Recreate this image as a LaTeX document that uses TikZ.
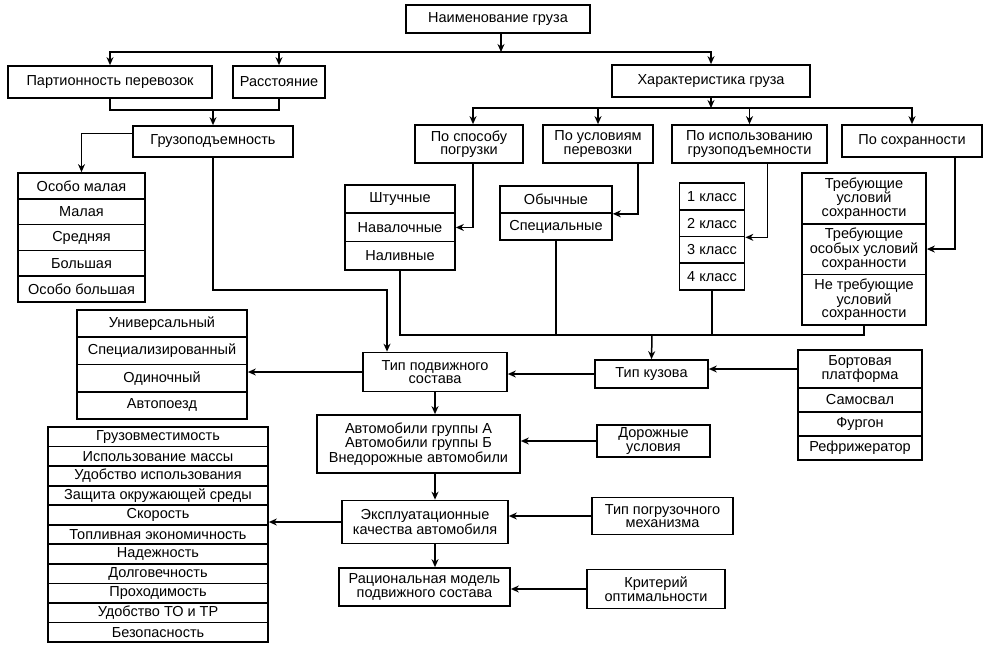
\documentclass[tikz,border=0pt]{standalone}
\usepackage{fontspec}
\setmainfont{Liberation Sans}
\usepackage{tikz}
\usetikzlibrary{arrows.meta}
\tikzset{
  nd_box/.style = {draw=black, line width=1.7pt, align=center, inner sep=1pt,
    font=\fontsize{14.5}{13.5}\selectfont},% box
  sz/.style 2 args = {minimum width=#1, minimum height=#2},% box size
  ln/.style = {line width=1.5pt}% connector
}

\begin{document}
\begin{tikzpicture}[x=1pt,y=-1pt,>={Stealth[length=8pt,width=7pt]},ln]
\useasboundingbox (0,0) rectangle (987,658);
% top level
\node [nd_box, sz={184}{28}] (naim) at (498,19) {Наименование груза};
\node [nd_box, sz={204}{32}] (part) at (110,82) {Партионность перевозок};
\node [nd_box, sz={92}{32}] (rasst) at (279,82) {Расстояние};
\node [nd_box, sz={198}{32}] (har) at (711,81) {Характеристика груза};
\node [nd_box, sz={160}{31}] (gruz) at (213,141.5) {Грузоподъемность};
\node [nd_box, sz={108}{38}] (sposob) at (469,144) {По способу\\погрузки};
\node [nd_box, sz={110}{38}] (uslov) at (598,144) {По условиям\\перевозки};
\node [nd_box, sz={155}{38}] (ispol) at (749.5,144) {По использованию\\грузоподъемности};
\node [nd_box, sz={140}{32}] (sohr) at (912,141) {По сохранности};
% stacks
\foreach \t [count=\i] in {Особо малая, Малая, Средняя, Большая, Особо большая}
  \node [nd_box, sz={127}{25.8}] (gp\i) at (81.5,{173+25.8*(\i-0.5)}) {\t};
\foreach \t [count=\i] in {Штучные, Навалочные, Наливные}
  \node [nd_box, sz={110}{28.3}] (sht\i) at (400,{185+28.3*(\i-0.5)}) {\t};
\foreach \t [count=\i] in {Обычные, Специальные}
  \node [nd_box, sz={112}{27}] (obych\i) at (556,{186+27*(\i-0.5)}) {\t};
\foreach \i in {1,...,4}
  \node [nd_box, sz={65}{26.75}] (kl\i) at (712,{183+26.75*(\i-0.5)}) {\i\ класс};
\foreach \t [count=\i] in {{Требующие\\условий\\сохранности},
    {Требующие\\особых условий\\сохранности}, {Не требующие\\условий\\сохранности}}
  \node [nd_box, sz={124}{50.7}] (tr\i) at (864,{173+50.7*(\i-0.5)}) {\t};
\foreach \t [count=\i] in {Универсальный, Специализированный, Одиночный, Автопоезд}
  \node [nd_box, sz={170}{27.25}] (un\i) at (162,{310+27.25*(\i-0.5)}) {\t};
\node [nd_box, sz={124}{38}] (bort1) at (860,369) {Бортовая\\платформа};
\foreach \t [count=\i from 2] in {Самосвал, Фургон, Рефрижератор}
  \node [nd_box, sz={124}{24}] (bort\i) at (860,{388+24*(\i-1.5)}) {\t};
\foreach \t [count=\i] in {Грузовместимость, Использование массы, Удобство использования,
    Защита окружающей среды, Скорость, Топливная экономичность, Надежность,
    Долговечность, Проходимость, Удобство ТО и ТР, Безопасность}
  \node [nd_box, sz={220}{19.55}] (gv\i) at (158,{427+19.55*(\i-0.5)}) {\t};
% middle column
\node [nd_box, sz={144}{39}] (tps) at (435,372) {Тип подвижного\\состава};
\node [nd_box, sz={113}{28}] (tk) at (651.5,374) {Тип кузова};
\node [nd_box, sz={203}{58}] (avto) at (418.5,444) {Автомобили группы А\\Автомобили группы Б\\Внедорожные автомобили};
\node [nd_box, sz={113}{32}] (dor) at (653.5,441) {Дорожные\\условия};
\node [nd_box, sz={166}{43}] (ekspl) at (425,522) {Эксплуатационные\\качества автомобиля};
\node [nd_box, sz={141}{37}] (pogr) at (662.5,516) {Тип погрузочного\\механизма};
\node [nd_box, sz={171}{38}] (rac) at (424.5,587) {Рациональная модель\\подвижного состава};
\node [nd_box, sz={138}{39}] (krit) at (656,589) {Критерий\\оптимальности};
% buses
\coordinate (b1) at (501,52);
\coordinate (b2) at (213,110);
\coordinate (b3) at (711,108);
\coordinate (b4) at (652,335);
\coordinate (c1) at (387,290);
% connectors
\draw [->] (naim.south -| b1) -- (b1);
\draw [->] (b1) -| (part.north);
\draw [->] (b1) -| (har.north);
\draw [->] (b1 -| rasst.north) -- (rasst.north);
\draw (part.south) |- (b2) -| (rasst.south);
\draw [->] (b2) -- (gruz.north);
\draw [->] ([yshift=8pt]gruz.west) -| (gp1.north);
\draw [->] (gruz.south) |- (c1) -- (c1 |- tps.north);
\draw [->] (har.south) -- (b3);
\draw [->] (b3) -| ([xshift=4pt]sposob.north);
\draw [->] (b3) -| (sohr.north);
\draw [->] (b3 -| uslov.north) -- (uslov.north);
\draw [->] (b3 -| ispol.north) -- (ispol.north);
\draw [->] ([xshift=4pt]sposob.south) |- (sht2.east);
\draw [->] ([xshift=40pt]uslov.south) |- (obych1.south east);
\draw [->] ([xshift=18pt]ispol.south) |- (kl2.south east);
\draw [->] ([xshift=43pt]sohr.south) |- (tr2.east);
\draw (sht3.south) |- (b4);
\draw (tr3.south) |- (b4);
\draw (obych2.south) -- (obych2.south |- b4);
\draw (kl4.south) -- (kl4.south |- b4);
\draw [->] (b4) -- (tk.north);
\draw [->] (tk.west) -- (tk.west -| tps.east);
\draw [->] (tps.west) -- (tps.west -| un3.east);
\draw [->] (bort1.west) -- (bort1.west -| tk.east);
\draw [->] (tps.south) -- (tps.south |- avto.north);
\draw [->] (dor.west) -- (dor.west -| avto.east);
\draw [->] (tps.south |- avto.south) -- (tps.south |- ekspl.north);
\draw [->] (pogr.west) -- (pogr.west -| ekspl.east);
\draw [->] (ekspl.west) -- (ekspl.west -| gv5.east);
\draw [->] (tps.south |- ekspl.south) -- (tps.south |- rac.north);
\draw [->] (krit.west) -- (krit.west -| rac.east);
\end{tikzpicture}
\end{document}
